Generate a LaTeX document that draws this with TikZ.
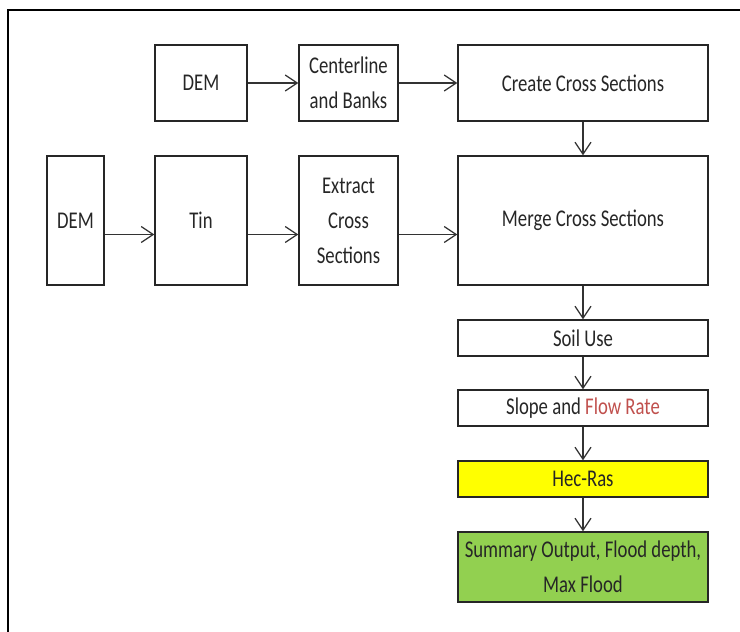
\documentclass[tikz,border=0pt]{standalone}
\usepackage{fontspec}
\setmainfont{Carlito}[FakeStretch=0.78]
\usetikzlibrary{arrows.meta}

\begin{document}
\begin{tikzpicture}[x=1pt,y=-1pt,
  mybox/.style={rectangle,draw=black!85,line width=1.3pt,align=center,inner sep=0pt,
    text=black!85,font=\fontsize{24}{35}\selectfont},
  myarrow/.style={draw=black!80,line width=1.3pt,
    -{Straight Barb[length=12pt,width=16pt,line width=1.3pt]}}]
\definecolor{hecyellow}{HTML}{FFFF00}
\definecolor{outgreen}{HTML}{92D050}
\definecolor{flowred}{HTML}{C0504D}
\useasboundingbox (0,0) rectangle (740,632);
\draw[line width=2pt] (8,632) -- (8,10) -- (740,10);
% upper row
\node[mybox,minimum width=92,minimum height=76] (dema) at (201,83) {DEM};
\node[mybox,minimum width=99,minimum height=76] (cl) at (348.5,83) {Centerline\\and Banks};
\node[mybox,minimum width=250,minimum height=76] (ccs) at (583,83) {Create Cross Sections};
% lower row
\node[mybox,minimum width=57,minimum height=129] (demb) at (75.5,220.5) {DEM};
\node[mybox,minimum width=92,minimum height=129] (tin) at (201,220.5) {Tin};
\node[mybox,minimum width=99,minimum height=129] (ecs) at (348.5,220.5) {Extract\\Cross\\Sections};
\node[mybox,minimum width=250,minimum height=129] (mcs) at (583,220.5) {Merge Cross Sections};
% column
\node[mybox,minimum width=250,minimum height=36] (soil) at (583,338) {Soil Use};
\node[mybox,minimum width=250,minimum height=36] (slope) at (583,408) {Slope and \textcolor{flowred}{Flow Rate}};
\node[mybox,fill=hecyellow,minimum width=250,minimum height=36] (hec) at (583,479) {Hec-Ras};
\node[mybox,fill=outgreen,minimum width=250,minimum height=70] (out) at (583,567) {Summary Output, Flood depth,\\Max Flood};
% arrows
\draw[myarrow] (dema) -- (cl);
\draw[myarrow] (cl) -- (ccs);
\foreach \from/\to in {demb/tin,tin/ecs,ecs/mcs}
  \draw[myarrow] ([yshift=-14pt]\from.east) -- ([yshift=-14pt]\to.west);
\foreach \from/\to in {ccs/mcs,mcs/soil,soil/slope,slope/hec,hec/out}
  \draw[myarrow] (\from) -- (\to);
\end{tikzpicture}
\end{document}
